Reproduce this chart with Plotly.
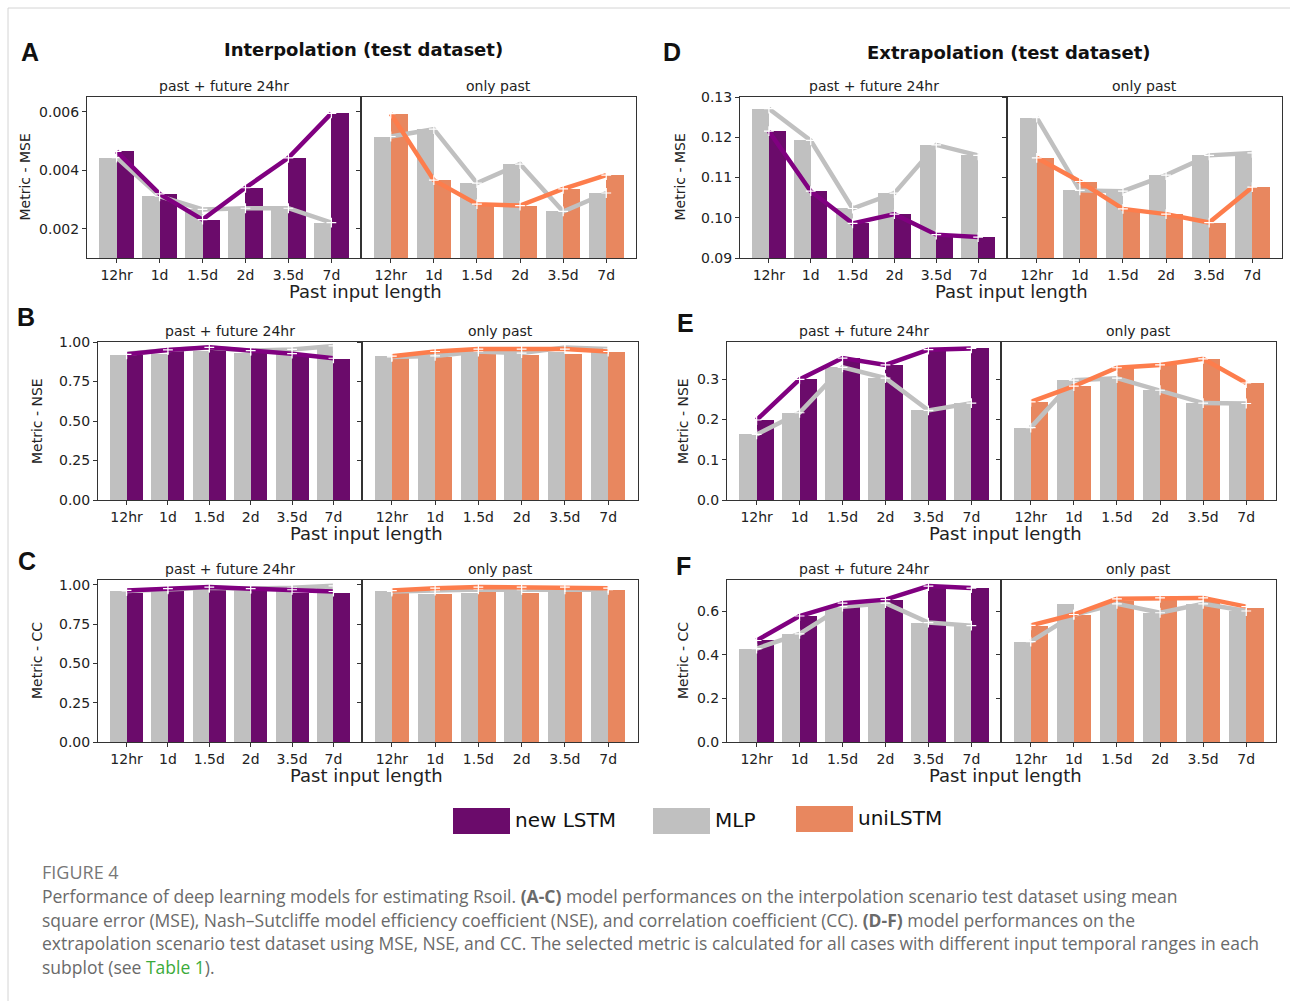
import plotly.graph_objects as go

W, H = 1290, 1001
periods = ["12hr", "1d", "1.5d", "2d", "3.5d", "7d"]

# ---- A: interpolation, MSE ----
A_pf_lstm = [0.00464, 0.00319, 0.00231, 0.00340, 0.00442, 0.00594]
A_pf_mlp = [0.00443, 0.00311, 0.00266, 0.00270, 0.00270, 0.00221]
A_op_uni = [0.00593, 0.00366, 0.00284, 0.00279, 0.00336, 0.00383]
A_op_mlp = [0.00515, 0.00540, 0.00356, 0.00421, 0.00259, 0.00322]

# ---- B: interpolation, NSE ----
B_pf_lstm = [0.916, 0.940, 0.950, 0.937, 0.916, 0.895]
B_pf_mlp = [0.920, 0.924, 0.940, 0.930, 0.922, 0.977]
B_op_uni = [0.900, 0.903, 0.925, 0.920, 0.925, 0.935]
B_op_mlp = [0.909, 0.912, 0.925, 0.930, 0.935, 0.935]
B_pf_lstm_line = [0.922, 0.950, 0.966, 0.945, 0.926, 0.897]
B_pf_mlp_line = [0.925, 0.950, 0.965, 0.945, 0.953, 0.975]
B_op_uni_line = [0.910, 0.940, 0.955, 0.955, 0.955, 0.940]
B_op_mlp_line = [0.905, 0.912, 0.940, 0.930, 0.965, 0.955]

# ---- C: interpolation, CC ----
C_pf_lstm = [0.950, 0.968, 0.978, 0.968, 0.950, 0.946]
C_pf_mlp = [0.957, 0.957, 0.968, 0.968, 0.963, 0.994]
C_op_uni = [0.950, 0.942, 0.957, 0.950, 0.957, 0.968]
C_op_mlp = [0.957, 0.942, 0.950, 0.957, 0.957, 0.957]
C_pf_lstm_line = [0.964, 0.975, 0.985, 0.975, 0.968, 0.957]
C_pf_mlp_line = [0.960, 0.970, 0.980, 0.975, 0.980, 0.993]
C_op_uni_line = [0.963, 0.978, 0.985, 0.985, 0.985, 0.978]
C_op_mlp_line = [0.957, 0.963, 0.970, 0.968, 0.970, 0.968]

# ---- D: extrapolation, MSE ----
D_pf_lstm = [0.1215, 0.1066, 0.0986, 0.1009, 0.0958, 0.0952]
D_pf_mlp = [0.1271, 0.1192, 0.1023, 0.1061, 0.1181, 0.1155]
D_op_uni = [0.1149, 0.1090, 0.1022, 0.1009, 0.0988, 0.1076]
D_op_mlp = [0.1249, 0.1068, 0.1066, 0.1106, 0.1155, 0.1161]

# ---- E: extrapolation, NSE ----
E_pf_lstm = [0.199, 0.300, 0.353, 0.336, 0.374, 0.377]
E_pf_mlp = [0.163, 0.217, 0.330, 0.303, 0.223, 0.241]
E_op_uni = [0.244, 0.283, 0.329, 0.336, 0.351, 0.291]
E_op_mlp = [0.180, 0.298, 0.303, 0.273, 0.241, 0.240]

# ---- F: extrapolation, CC ----
F_pf_lstm = [0.465, 0.577, 0.636, 0.652, 0.714, 0.705]
F_pf_mlp = [0.428, 0.495, 0.620, 0.636, 0.547, 0.533]
F_op_uni = [0.530, 0.584, 0.645, 0.655, 0.655, 0.616]
F_op_mlp = [0.460, 0.630, 0.633, 0.592, 0.630, 0.600]
F_op_uni_line = [0.534, 0.584, 0.656, 0.660, 0.660, 0.620]
F_op_mlp_line = [0.460, 0.582, 0.633, 0.592, 0.633, 0.600]

# colours
C_LSTM_BAR = "#6b0b6b"
C_LSTM_LINE = "#800080"
C_MLP = "#c0c0c0"
C_UNI_BAR = "#e8875f"
C_UNI_LINE = "#fd7d4c"

FONT = "DejaVu Sans"


def px(x):
    return x / W


def py(y):
    return 1 - y / H


fig = go.Figure()
layout_axes = {}
annotations = []
shapes = []

panels = [
    dict(letter="A", lx=30, ly=52, x0=87, xm=361, x1=636, yt=97, yb=258,
         yr=[0.001, 0.0065], tv=[0.002, 0.004, 0.006], fmt=".3f",
         ylab="Metric - MSE", ylx=25,
         left=(A_pf_mlp, A_pf_lstm, A_pf_mlp, A_pf_lstm),
         right=(A_op_mlp, A_op_uni, A_op_mlp, A_op_uni)),
    dict(letter="B", lx=26, ly=317, x0=98, xm=362, x1=638, yt=342, yb=500,
         yr=[0, 1.0], tv=[0, 0.25, 0.5, 0.75, 1.0], fmt=".2f",
         ylab="Metric - NSE", ylx=37,
         left=(B_pf_mlp, B_pf_lstm, B_pf_mlp_line, B_pf_lstm_line),
         right=(B_op_mlp, B_op_uni, B_op_mlp_line, B_op_uni_line)),
    dict(letter="C", lx=27, ly=561, x0=98, xm=362, x1=638, yt=580, yb=742,
         yr=[0, 1.03], tv=[0, 0.25, 0.5, 0.75, 1.0], fmt=".2f",
         ylab="Metric - CC", ylx=37,
         left=(C_pf_mlp, C_pf_lstm, C_pf_mlp_line, C_pf_lstm_line),
         right=(C_op_mlp, C_op_uni, C_op_mlp_line, C_op_uni_line)),
    dict(letter="D", lx=672, ly=52, x0=740, xm=1007, x1=1282, yt=97, yb=258,
         yr=[0.09, 0.13], tv=[0.09, 0.10, 0.11, 0.12, 0.13], fmt=".2f",
         ylab="Metric - MSE", ylx=680,
         left=(D_pf_mlp, D_pf_lstm, D_pf_mlp, D_pf_lstm),
         right=(D_op_mlp, D_op_uni, D_op_mlp, D_op_uni)),
    dict(letter="E", lx=685, ly=323, x0=727, xm=1001, x1=1276, yt=342, yb=500,
         yr=[0, 0.393], tv=[0, 0.1, 0.2, 0.3], fmt=".1f",
         ylab="Metric - NSE", ylx=683,
         left=(E_pf_mlp, E_pf_lstm, E_pf_mlp, E_pf_lstm),
         right=(E_op_mlp, E_op_uni, E_op_mlp, E_op_uni)),
    dict(letter="F", lx=683, ly=566, x0=727, xm=1001, x1=1276, yt=580, yb=742,
         yr=[0, 0.742], tv=[0, 0.2, 0.4, 0.6], fmt=".1f",
         ylab="Metric - CC", ylx=683,
         left=(F_pf_mlp, F_pf_lstm, F_pf_mlp, F_pf_lstm),
         right=(F_op_mlp, F_op_uni, F_op_mlp_line, F_op_uni_line)),
]

idx = 0
xs = list(range(len(periods)))
for p in panels:
    for side in ("left", "right"):
        idx += 1
        xa = "x" if idx == 1 else f"x{idx}"
        ya = "y" if idx == 1 else f"y{idx}"
        xname = "xaxis" if idx == 1 else f"xaxis{idx}"
        yname = "yaxis" if idx == 1 else f"yaxis{idx}"
        if side == "left":
            d0, d1 = p["x0"], p["xm"]
            cbar, cline = C_LSTM_BAR, C_LSTM_LINE
        else:
            d0, d1 = p["xm"], p["x1"]
            cbar, cline = C_UNI_BAR, C_UNI_LINE
        mlp_bar, mod_bar, mlp_line, mod_line = p[side]

        fig.add_trace(go.Bar(x=[i - 0.2 for i in xs], y=mlp_bar, width=0.4,
                             marker=dict(color=C_MLP, line=dict(width=0)),
                             xaxis=xa, yaxis=ya, showlegend=False))
        fig.add_trace(go.Bar(x=[i + 0.2 for i in xs], y=mod_bar, width=0.4,
                             marker=dict(color=cbar, line=dict(width=0)),
                             xaxis=xa, yaxis=ya, showlegend=False))
        for yv, col in ((mlp_line, C_MLP), (mod_line, cline)):
            fig.add_trace(go.Scatter(
                x=xs, y=yv, mode="lines+markers",
                line=dict(color=col, width=4.5),
                marker=dict(symbol="cross-thin", size=7, color="white",
                            line=dict(color="white", width=1.2)),
                xaxis=xa, yaxis=ya, showlegend=False, cliponaxis=True))

        layout_axes[xname] = dict(
            domain=[px(d0), px(d1)], anchor=ya, range=[-0.69, 5.69],
            tickmode="array", tickvals=xs, ticktext=periods,
            showline=True, mirror=True, linecolor="#333", linewidth=1,
            ticks="outside", ticklen=4, tickcolor="#333",
            tickfont=dict(family=FONT, size=14, color="#222"),
            showgrid=False, zeroline=False, fixedrange=True, automargin=False)
        layout_axes[yname] = dict(
            domain=[py(p["yb"]), py(p["yt"])], anchor=xa, range=p["yr"],
            tickmode="array", tickvals=p["tv"], tickformat=p["fmt"],
            showticklabels=(side == "left"),
            showline=True, mirror=True, linecolor="#333", linewidth=1,
            ticks="outside", ticklen=4, tickcolor="#333",
            tickfont=dict(family=FONT, size=14, color="#222"),
            showgrid=False, zeroline=False, fixedrange=True, automargin=False)

        annotations.append(dict(
            text="past + future 24hr" if side == "left" else "only past",
            x=px((d0 + d1) / 2), y=py(p["yt"] - 11), xref="paper", yref="paper",
            xanchor="center", yanchor="middle", showarrow=False,
            font=dict(family=FONT, size=14, color="#222")))

    annotations.append(dict(text=f"<b>{p['letter']}</b>", x=px(p["lx"]), y=py(p["ly"]),
                            xref="paper", yref="paper", xanchor="center", yanchor="middle",
                            showarrow=False,
                            font=dict(family="Liberation Sans", size=25, color="#111")))
    annotations.append(dict(text=p["ylab"], x=px(p["ylx"]), y=py((p["yt"] + p["yb"]) / 2),
                            xref="paper", yref="paper", xanchor="center", yanchor="middle",
                            textangle=-90, showarrow=False,
                            font=dict(family=FONT, size=14, color="#222")))
    annotations.append(dict(text="Past input length", x=px(p["xm"] + 4), y=py(p["yb"] + 33),
                            xref="paper", yref="paper", xanchor="center", yanchor="middle",
                            showarrow=False,
                            font=dict(family=FONT, size=18, color="#222")))

annotations.append(dict(text="<b>Interpolation (test dataset)</b>", x=px(363), y=py(49),
                        xref="paper", yref="paper", xanchor="center", yanchor="middle",
                        showarrow=False, font=dict(family=FONT, size=18, color="#111")))
annotations.append(dict(text="<b>Extrapolation (test dataset)</b>", x=px(1008), y=py(52),
                        xref="paper", yref="paper", xanchor="center", yanchor="middle",
                        showarrow=False, font=dict(family=FONT, size=18, color="#111")))

legend_items = [("new LSTM", C_LSTM_BAR, 453, 808, 834),
                ("MLP", C_MLP, 653, 808, 834),
                ("uniLSTM", C_UNI_BAR, 796, 806, 832)]
for name, col, lx, ly0, ly1 in legend_items:
    shapes.append(dict(type="rect", xref="paper", yref="paper",
                       x0=px(lx), x1=px(lx + 57), y0=py(ly1), y1=py(ly0),
                       fillcolor=col, line=dict(width=0)))
    annotations.append(dict(text=name, x=px(lx + 60), y=py((ly0 + ly1) / 2 - 1),
                            xref="paper", yref="paper", xanchor="left", yanchor="middle",
                            showarrow=False, font=dict(family=FONT, size=20, color="#111")))

shapes.append(dict(type="line", xref="paper", yref="paper", x0=px(8), x1=1, y0=py(8), y1=py(8),
                   line=dict(color="#d4d4d4", width=1)))
shapes.append(dict(type="line", xref="paper", yref="paper", x0=px(8), x1=px(8), y0=py(8), y1=0,
                   line=dict(color="#d4d4d4", width=1)))

CAP = "Open Sans"
annotations.append(dict(text="FIGURE 4", x=px(40), y=py(872), xref="paper", yref="paper",
                        xanchor="left", yanchor="middle", showarrow=False,
                        font=dict(family=CAP, size=18, color="#777")))
cap_lines = [
    "Performance of deep learning models for estimating Rsoil. <b>(A-C)</b> model performances on the interpolation scenario test dataset using mean",
    "square error (MSE), Nash\u2013Sutcliffe model efficiency coefficient (NSE), and correlation coefficient (CC). <b>(D-F)</b> model performances on the",
    "extrapolation scenario test dataset using MSE, NSE, and CC. The selected metric is calculated for all cases with different input temporal ranges in each",
    "subplot (see <span style='color:#3bab3b'>Table 1</span>).",
]
for i, t in enumerate(cap_lines):
    annotations.append(dict(text=t, x=px(40), y=py(896 + 23.5 * i), xref="paper", yref="paper",
                            xanchor="left", yanchor="middle", showarrow=False,
                            font=dict(family=CAP, size=17.5, color="#6a6a6a")))

fig.update_layout(
    width=W, height=H, margin=dict(l=0, r=0, t=0, b=0, pad=0),
    paper_bgcolor="white", plot_bgcolor="white",
    barmode="overlay", bargap=0, showlegend=False,
    annotations=annotations, shapes=shapes, **layout_axes)

fig.write_html("out.html",
               config={"displayModeBar": False, "staticPlot": True},
               post_script="document.body.style.margin='0';document.body.style.overflow='hidden';")
